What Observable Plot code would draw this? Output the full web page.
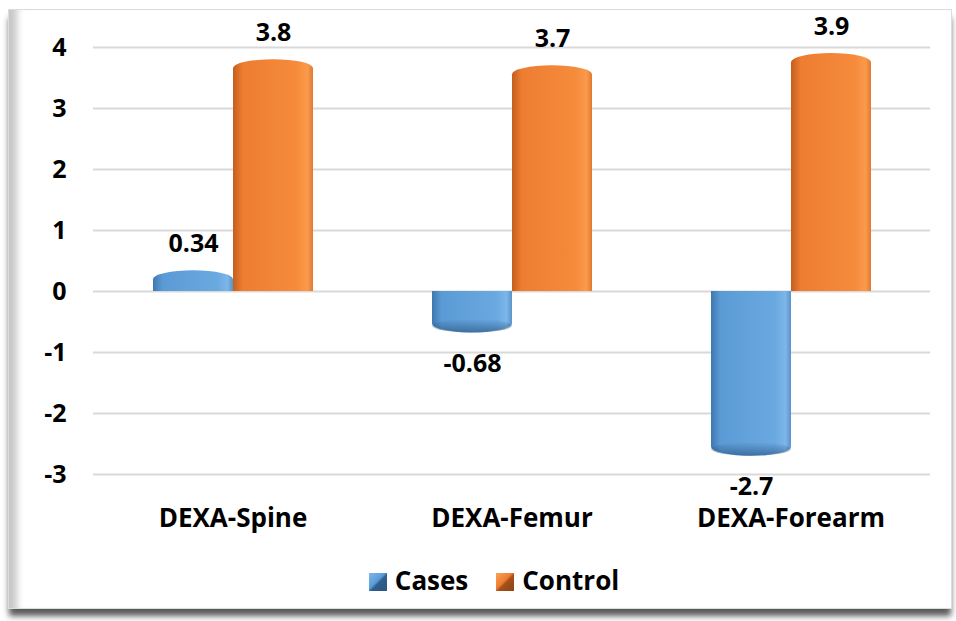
<!DOCTYPE html>
<html><head><meta charset="utf-8">
<script src="https://cdn.jsdelivr.net/npm/d3@7"></script>
<script src="https://cdn.jsdelivr.net/npm/@observablehq/plot@0.6"></script>
<style>
body{margin:0;background:#fff;width:956px;height:621px;position:relative;overflow:hidden;font-family:"Open Sans",sans-serif;}
#frame{position:absolute;left:8px;top:9px;width:944px;height:600px;box-sizing:border-box;border:1px solid #dcdcdc;
 box-shadow: inset 13px 0 7px -5px #c8c8c8, 0 8px 6px -1px #5a5a5a;background:#fff;}
#chart{position:absolute;left:0;top:0;}
#legend{position:absolute;left:16px;top:562px;width:956px;display:flex;justify-content:center;align-items:center;gap:0;font-weight:700;font-size:26px;color:#000;}
.item{display:flex;align-items:center;margin:0 14px;}
.sw{width:18px;height:18px;margin-right:8px;margin-top:4px;}
</style></head>
<body>
<div id="frame"></div>
<div id="chart"></div>
<div id="legend"></div>
<script>
const categories = ["DEXA-Spine", "DEXA-Femur", "DEXA-Forearm"];
const series = ["Cases", "Control"];
const casesValues = [0.34, -0.68, -2.7];
const controlValues = [3.8, 3.7, 3.9];
const yTicks = [-3, -2, -1, 0, 1, 2, 3, 4];

const data = [];
categories.forEach((c, i) => {
  data.push({category: c, series: "Cases", value: casesValues[i]});
  data.push({category: c, series: "Control", value: controlValues[i]});
});
const cases = data.filter(d => d.series === "Cases");
const control = data.filter(d => d.series === "Control");
const pos = data.filter(d => d.value >= 0);
const neg = data.filter(d => d.value < 0);

const font = {fontSize: 25, fontWeight: 700, fill: "#000"};
const fmt = d => String(d);

const plot = Plot.plot({
  width: 956,
  height: 545,
  marginLeft: 93,
  marginRight: 26,
  marginTop: 47,
  marginBottom: 71,
  style: {fontFamily: "'Open Sans', sans-serif", background: "transparent", overflow: "visible"},
  fx: {domain: categories, padding: 0, label: null},
  x: {domain: series, paddingInner: 0, paddingOuter: 0.74, axis: null},
  y: {domain: [-3, 4], label: null},
  marks: [
    Plot.gridY(yTicks, {stroke: "#d9d9d9", strokeOpacity: 1, strokeWidth: 2}),
    // cylinders: rounded full bar plus square base half
    Plot.barY(cases, {fx: "category", x: "series", y: "value", fill: "url(#gBlue)", rx: 40, ry: 9}),
    Plot.barY(cases, {fx: "category", x: "series", y1: 0, y2: d => d.value / 2, fill: "url(#gBlue)"}),
    Plot.barY(neg, {fx: "category", x: "series", y1: d => d.value + 0.22, y2: "value", fill: "url(#gShade)", rx: 40, ry: 9}),
    Plot.barY(control, {fx: "category", x: "series", y: "value", fill: "url(#gOrange)", rx: 40, ry: 9}),
    Plot.barY(control, {fx: "category", x: "series", y1: 0, y2: d => d.value / 2, fill: "url(#gOrange)"}),
    Plot.text(pos, {fx: "category", x: "series", y: "value", text: d => String(d.value), dy: -27, ...font}),
    Plot.text(neg, {fx: "category", x: "series", y: "value", text: d => String(d.value), dy: 31, ...font}),
    Plot.axisY({ticks: yTicks, tickFormat: fmt, tickSize: 0, tickPadding: 27, fontSize: 25, fontWeight: 700, fill: "#000", label: null}),
    Plot.axisFx({anchor: "bottom", tickSize: 0, tickPadding: 34, fontSize: 26, fontWeight: 700, fill: "#000", label: null})
  ]
});

plot.insertAdjacentHTML("afterbegin", `<defs>
<linearGradient id="gBlue" x1="0" y1="0" x2="1" y2="0">
<stop offset="0" stop-color="#3f78b0"/><stop offset="0.12" stop-color="#5b9bd5"/>
<stop offset="0.8" stop-color="#6aa8e0"/><stop offset="0.93" stop-color="#7cb6ea"/><stop offset="1" stop-color="#5a93c8"/>
</linearGradient>
<linearGradient id="gOrange" x1="0" y1="0" x2="1" y2="0">
<stop offset="0" stop-color="#c45f1c"/><stop offset="0.12" stop-color="#ed7d31"/>
<stop offset="0.8" stop-color="#f68b3c"/><stop offset="0.93" stop-color="#fb9a4c"/><stop offset="1" stop-color="#e07a30"/>
</linearGradient>
<linearGradient id="gShade" x1="0" y1="0" x2="0" y2="1">
<stop offset="0" stop-color="#1f4670" stop-opacity="0"/><stop offset="1" stop-color="#1f4670" stop-opacity="0.55"/>
</linearGradient></defs>`);
document.getElementById("chart").appendChild(plot);

const swatches = {Cases: "linear-gradient(135deg,#7db8ee 0%,#5b9bd5 45%,#2f5f8e 55%,#2a5580 100%)",
                  Control: "linear-gradient(135deg,#f8a35a 0%,#ed7d31 45%,#a5501a 55%,#8f4412 100%)"};
const legend = document.getElementById("legend");
series.forEach(s => {
  const it = document.createElement("div");
  it.className = "item";
  it.innerHTML = `<span class="sw" style="background:${swatches[s]}"></span><span>${s}</span>`;
  legend.appendChild(it);
});
</script>
</body></html>
